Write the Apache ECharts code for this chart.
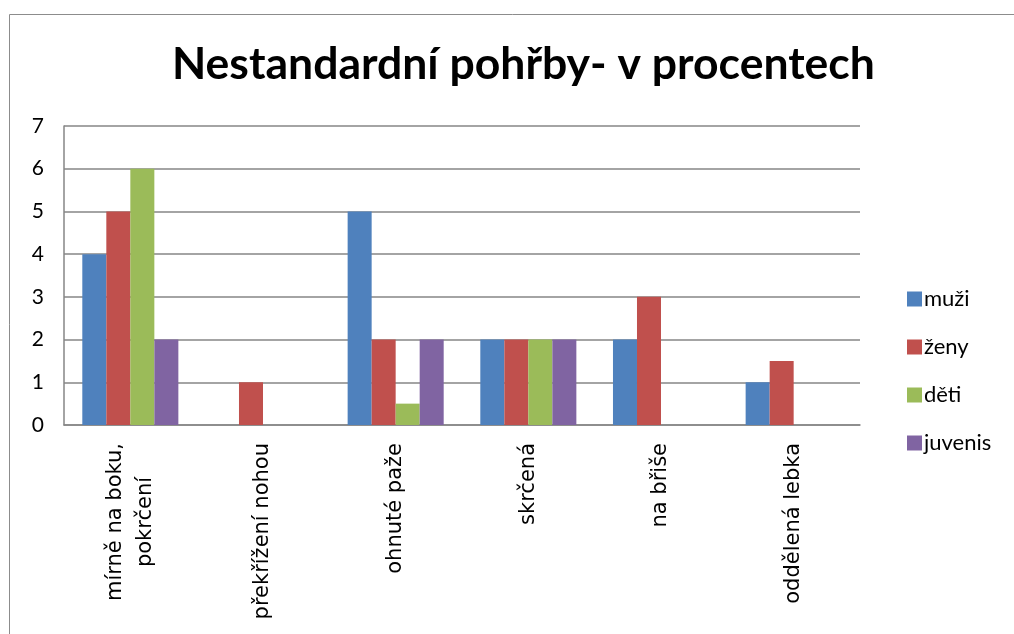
<!DOCTYPE html>
<html>
<head>
<meta charset="utf-8">
<script src="https://cdn.jsdelivr.net/npm/echarts@6/dist/echarts.min.js"></script>
<style>
	html, body { margin: 0; padding: 0; background: #ffffff; }
	#chart { width: 1014px; height: 634px; }
</style>
</head>
<body>
<div id="chart"></div>
<script>
	var categories = [ 'mírně na boku,\npokrčení', 'překřížení nohou', 'ohnuté paže', 'skrčená', 'na břiše', 'oddělená lebka' ];
	var muzi = [ 4, 0, 5, 2, 2, 1 ];
	var zeny = [ 5, 1, 2, 2, 3, 1.5 ];
	var deti = [ 6, 0, 0.5, 2, 0, 0 ];
	var juvenis = [ 2, 0, 2, 2, 0, 0 ];
	var seriesNames = [ 'muži', 'ženy', 'děti', 'juvenis' ];
	var colors = [ '#4F81BD', '#C0504D', '#9BBB59', '#8064A2' ];

	var font = 'Lato, "Open Sans", sans-serif';
	var labelFont = '"DejaVu Sans", Verdana, sans-serif';

	function makeBar(name, data, color) {
		return {
			name : name,
			type : 'bar',
			data : data,
			barGap : '0%',
			barCategoryGap : '27.6%',
			itemStyle : {
				color : color
			},
			emphasis : { disabled : true }
		};
	}

	var myChart = echarts.init(document.getElementById('chart'));
	var option = {
		animation : false,
		color : colors,
		title : {
			text : 'Nestandardní pohřby- v procentech',
			left : 167,
			top : 37,
			textStyle : {
				fontFamily : font,
				fontWeight : 'bold',
				fontSize : 44.5,
				color : '#000000'
			}
		},
		graphic : [ {
			type : 'rect',
			shape : { x : 9.5, y : 14.5, width : 1100, height : 700 },
			style : { fill : 'none', stroke : '#8c8c8c', lineWidth : 1 },
			silent : true
		} ],
		legend : {
			orient : 'vertical',
			left : 902,
			top : 283,
			itemWidth : 15,
			itemHeight : 15,
			itemGap : 26,
			icon : 'rect',
			data : seriesNames,
			textStyle : {
				fontFamily : font,
				fontSize : 22,
				lineHeight : 22,
				color : '#000000',
				padding : [ 0, 0, 0, -3 ]
			}
		},
		grid : {
			left : 64,
			right : 154,
			top : 126,
			bottom : 209,
			containLabel : false
		},
		xAxis : {
			type : 'category',
			data : categories,
			axisLine : { lineStyle : { color : '#868686', width : 1.5 } },
			axisTick : { show : false },
			axisLabel : {
				rotate : 90,
				margin : 18,
				interval : 0,
				fontFamily : labelFont,
				fontSize : 21,
				color : '#000000',
				formatter : function(v) {
					return v.split('\n').map(function(s) {
						return '{a|' + s + '}';
					}).join('\n');
				},
				rich : {
					a : {
						fontFamily : labelFont,
						fontSize : 21,
						color : '#000000',
						align : 'center',
						lineHeight : 30,
						padding : [ 0, 0, 0, 0 ]
					}
				}
			}
		},
		yAxis : {
			type : 'value',
			min : 0,
			max : 7,
			interval : 1,
			axisLine : { show : true, lineStyle : { color : '#868686', width : 1.5 } },
			axisTick : { show : false },
			splitLine : { lineStyle : { color : '#868686', width : 1.5 } },
			axisLabel : {
				margin : 20,
				fontFamily : font,
				fontSize : 21,
				color : '#000000'
			}
		},
		series : [
			makeBar(seriesNames[0], muzi, colors[0]),
			makeBar(seriesNames[1], zeny, colors[1]),
			makeBar(seriesNames[2], deti, colors[2]),
			makeBar(seriesNames[3], juvenis, colors[3])
		]
	};
	myChart.setOption(option);
</script>
</body>
</html>
